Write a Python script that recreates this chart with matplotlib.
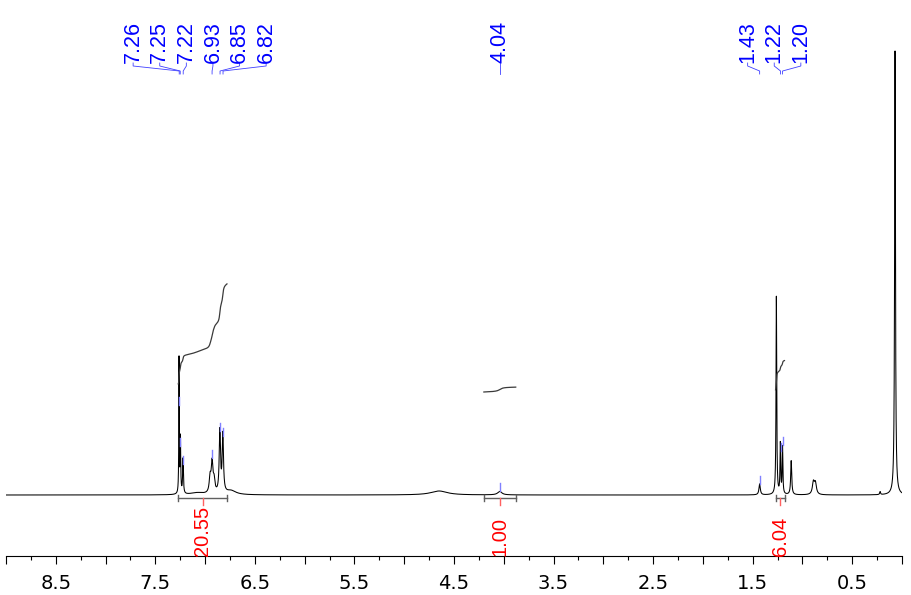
import numpy as np
import matplotlib
matplotlib.use("Agg")
import matplotlib.pyplot as plt
from matplotlib.ticker import MultipleLocator, FuncFormatter

# ---- data -------------------------------------------------------------
peak_ppm = [7.262, 7.248, 7.222, 7.080, 6.950, 6.930, 6.910, 6.852, 6.822, 6.740,
            4.650, 4.040, 1.430, 1.262, 1.222, 1.200, 1.113, 0.890, 0.870,
            0.220, 0.070]
peak_height = [135, 55, 35, 2, 15, 30, 12, 62, 58, 4,
               4, 3.5, 11, 198, 50, 47, 34, 12, 11,
               3, 444]
peak_hwhm = [0.0026, 0.0035, 0.0045, 0.08, 0.010, 0.010, 0.010, 0.0075, 0.0075, 0.06,
             0.10, 0.025, 0.008, 0.004, 0.004, 0.004, 0.006, 0.012, 0.012,
             0.005, 0.005]

label_ppm = [7.26, 7.25, 7.22, 6.93, 6.85, 6.82, 4.04, 1.43, 1.22, 1.20]
label_group = [0, 0, 0, 0, 0, 0, 1, 2, 2, 2]

integral_from = [7.27, 4.20, 1.27]
integral_to = [6.78, 3.88, 1.18]
integral_value = [20.55, 1.00, 6.04]
integral_offset = [111, 103, 105]

tick_label_values = [8.5, 7.5, 6.5, 5.5, 4.5, 3.5, 2.5, 1.5, 0.5]

LABEL_FONT = ["Liberation Sans", "DejaVu Sans"]

# ---- figure -----------------------------------------------------------
W, H = 911, 595
fig = plt.figure(figsize=(W / 100, H / 100), dpi=100)
fig.patch.set_facecolor("white")
ax = fig.add_axes([6 / W, 39 / H, 896 / W, 556 / H])
ax.set_xlim(9.0, 0.0)
ax.set_ylim(-61, 495)

x = np.linspace(9.0, 0.0, 18001)
y = np.zeros_like(x)
for p, h, w in zip(peak_ppm, peak_height, peak_hwhm):
    y += h * w ** 2 / ((x - p) ** 2 + w ** 2)

ax.plot(x, y, color="black", lw=0.75)

# integrals
scale = 4.87
for a, b, v, off in zip(integral_from, integral_to, integral_value, integral_offset):
    m = (x <= a) & (x >= b)
    cum = np.cumsum(y[m])
    cum = cum / cum[-1] * v * scale + off
    ax.plot(x[m], cum, color="#3a3a3a", lw=0.9)
    # bracket
    ax.plot([a, b], [-3, -3], color="#606060", lw=1.0)
    ax.plot([a, a], [-6, 0], color="#606060", lw=1.0)
    ax.plot([b, b], [-6, 0], color="#606060", lw=1.0)
    c = (a + b) / 2
    ax.plot([c, c], [-3, -10], color="#ff6060", lw=1.0)
    ax.text(c, -60.5, f"{v:.2f}", rotation=90, ha="center", va="bottom",
            color="red", fontsize=14.5, family=LABEL_FONT)

# peak markers
for p in label_ppm:
    s = np.interp(p, x[::-1], y[::-1])
    ax.plot([p, p], [s, s + 8], color="#8080ff", lw=1.0)

# axis styling
for sp in ["top", "left", "right"]:
    ax.spines[sp].set_visible(False)
ax.spines["bottom"].set_linewidth(0.8)
ax.set_yticks([])
ax.xaxis.set_major_locator(MultipleLocator(0.5))
ax.xaxis.set_minor_locator(MultipleLocator(0.25))
ax.xaxis.set_major_formatter(FuncFormatter(
    lambda v, pos: (f"{v:.1f}" if any(abs(v - t) < 1e-6 for t in tick_label_values) else "")))
ax.tick_params(axis="x", which="major", length=6, width=0.8, direction="out",
               labelsize=14, pad=7)
ax.tick_params(axis="x", which="minor", length=3, width=0.8, direction="out")
ax.patch.set_alpha(0)

# peak labels on top (overlay in pixel coordinates)
fig.canvas.draw()
ov = fig.add_axes([0, 0, 1, 1])
ov.set_xlim(0, W)
ov.set_ylim(H, 0)
ov.axis("off")
ov.patch.set_alpha(0)

peak_px = [ax.transData.transform((p, 0))[0] for p in label_ppm]
spacing = 26.6
for g in sorted(set(label_group)):
    idx = [i for i, gg in enumerate(label_group) if gg == g]
    center = np.mean([peak_px[i] for i in idx])
    n = len(idx)
    for k, i in enumerate(idx):
        lx = center + (k - (n - 1) / 2) * spacing
        px = peak_px[i]
        ov.plot([lx, lx, px, px], [63, 66, 71, 74], color="#4040ff", lw=0.6)
        ov.text(lx, 63, f"{label_ppm[i]:.2f}", rotation=90, ha="center",
                va="bottom", color="#0000ff", fontsize=15.5, family=LABEL_FONT)

fig.savefig("out.png", dpi=100)
